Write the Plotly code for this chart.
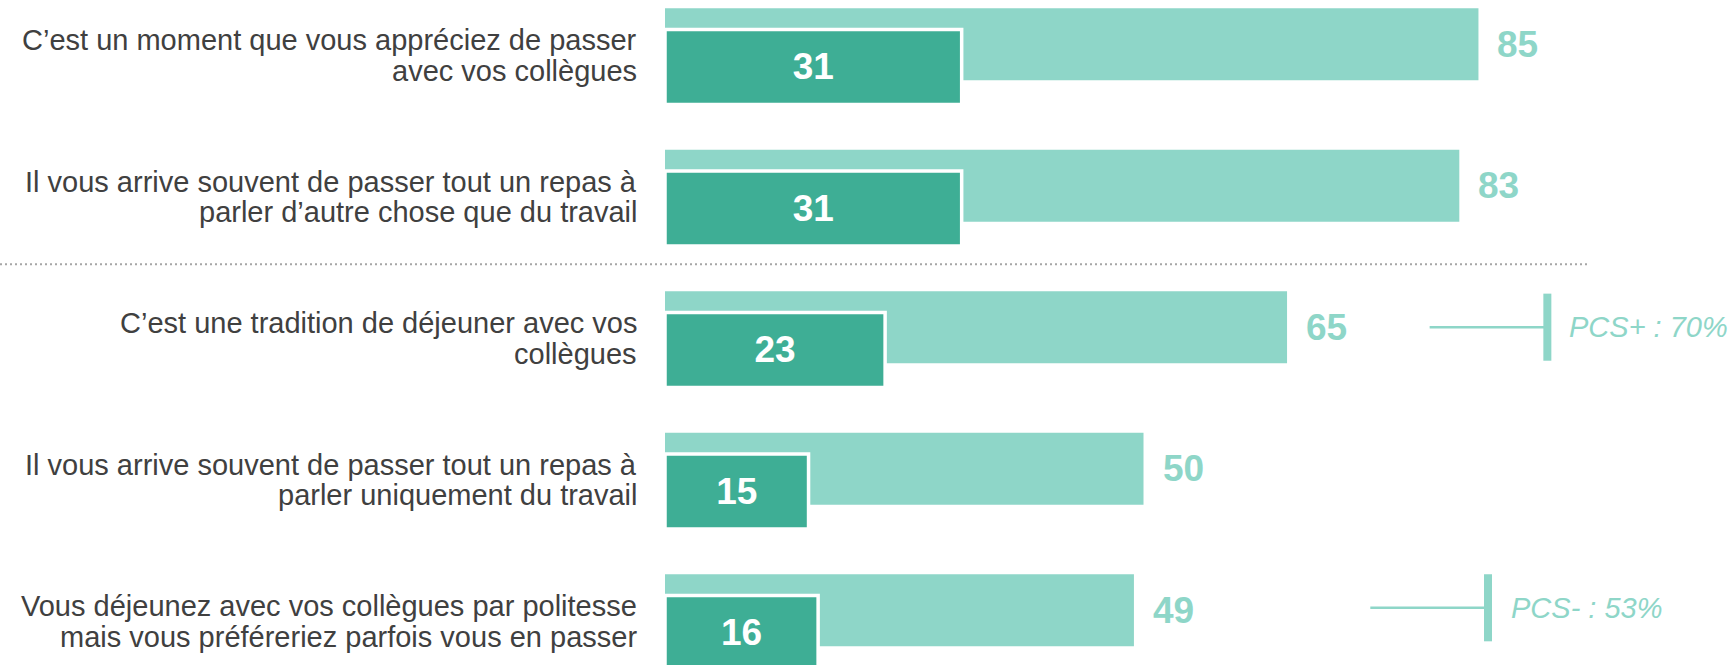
import plotly.graph_objects as go

# --- data -------------------------------------------------------------------
categories = [
    "C’est un moment que vous appréciez de passer<br>avec vos collègues",
    "Il vous arrive souvent de passer tout un repas à<br>parler d’autre chose que du travail",
    "C’est une tradition de déjeuner avec vos<br>collègues",
    "Il vous arrive souvent de passer tout un repas à<br>parler uniquement du travail",
    "Vous déjeunez avec vos collègues par politesse<br>mais vous préféreriez parfois vous en passer",
]
total_values = [85, 83, 65, 50, 49]      # light bars (total d'accord)
strong_values = [31, 31, 23, 15, 16]     # dark bars (tout à fait d'accord)
pcs_rows = [2, 4]
pcs_labels = ["PCS+ : 70%", "PCS- : 53%"]

# --- styling / layout constants ----------------------------------------------
W, H = 1734, 665
LIGHT = "#8ED6C8"
DARK = "#3EAE95"
TEXT = "#404040"
FONT = "Arial, Liberation Sans, sans-serif"

ROW_PX = 141.5            # vertical distance between rows
ROW0_PX = 55.5            # centre of first row
X0_PX = 665               # pixel position of value 0
PX_PER_UNIT = 9.57

LIGHT_OFF, DARK_OFF = -0.08, 0.081
LIGHT_W, DARK_W = 0.509, 0.53
LINE_GAP = 0.1095         # half distance between the two label lines

# PCS marker geometry (in value units), one entry per marker
pcs_geom = [
    dict(line_start=79.9, line_end=91.8, tick=92.2, text=94.3, dy=0.0),
    dict(line_start=73.7, line_end=85.6, tick=86.0, text=88.2, dy=-0.017),
]
TICK_HALF = 0.237

rows = list(range(len(categories)))
y_light = [r + LIGHT_OFF for r in rows]
y_dark = [r + DARK_OFF for r in rows]

fig = go.Figure()
fig.add_trace(go.Bar(
    x=total_values, y=y_light, orientation="h", width=LIGHT_W,
    marker=dict(color=LIGHT, line=dict(width=0)),
    hoverinfo="skip",
))
fig.add_trace(go.Bar(
    x=strong_values, y=y_dark, orientation="h", width=DARK_W,
    marker=dict(color=DARK, line=dict(color="white", width=3.5)),
    text=[str(v) for v in strong_values], textposition="inside",
    insidetextanchor="middle", textangle=0,
    textfont=dict(family=FONT, size=37, color="white", weight="bold"),
    constraintext="none", hoverinfo="skip",
))

annotations = []
# total value labels to the right of the light bars
for r, v in zip(rows, total_values):
    annotations.append(dict(
        x=v, y=r + LIGHT_OFF, xref="x", yref="y", text=f"<b>{v}</b>",
        showarrow=False, xanchor="left", yanchor="middle", xshift=17,
        font=dict(family=FONT, size=37, color=LIGHT),
    ))
# category labels, one annotation per line
for r, cat in zip(rows, categories):
    lines = cat.split("<br>")
    n = len(lines)
    for k, line in enumerate(lines):
        annotations.append(dict(
            x=639 / W, y=r + (k - (n - 1) / 2) * 2 * LINE_GAP,
            xref="paper", yref="y", text=line, showarrow=False,
            xanchor="right", yanchor="middle",
            font=dict(family=FONT, size=29, color=TEXT),
        ))

shapes = [
    # separator between the two groups
    dict(type="line", xref="paper", yref="y", x0=0, x1=1587 / W,
         y0=1.476, y1=1.476, line=dict(color="#A6A6A6", width=2, dash="2px,3px")),
]
for r, lab, g in zip(pcs_rows, pcs_labels, pcs_geom):
    yc = r + LIGHT_OFF + g["dy"]
    shapes.append(dict(type="line", xref="x", yref="y", x0=g["line_start"],
                       x1=g["tick"], y0=yc, y1=yc,
                       line=dict(color=LIGHT, width=2.5)))
    shapes.append(dict(type="line", xref="x", yref="y", x0=g["tick"],
                       x1=g["tick"], y0=yc - TICK_HALF, y1=yc + TICK_HALF,
                       line=dict(color=LIGHT, width=8)))
    annotations.append(dict(
        x=g["text"], y=yc, xref="x", yref="y", text=f"<i>{lab}</i>",
        showarrow=False, xanchor="left", yanchor="middle",
        font=dict(family=FONT, size=29, color=LIGHT),
    ))

fig.update_layout(
    width=W, height=H, margin=dict(l=0, r=0, t=0, b=0),
    paper_bgcolor="white", plot_bgcolor="white",
    barmode="overlay", showlegend=False,
    xaxis=dict(range=[-X0_PX / PX_PER_UNIT, (W - X0_PX) / PX_PER_UNIT],
               visible=False, fixedrange=True),
    yaxis=dict(range=[(H - ROW0_PX) / ROW_PX, -ROW0_PX / ROW_PX],
               visible=False, fixedrange=True),
    annotations=annotations, shapes=shapes,
)

fig.write_html("out.html", config={"displayModeBar": False})
